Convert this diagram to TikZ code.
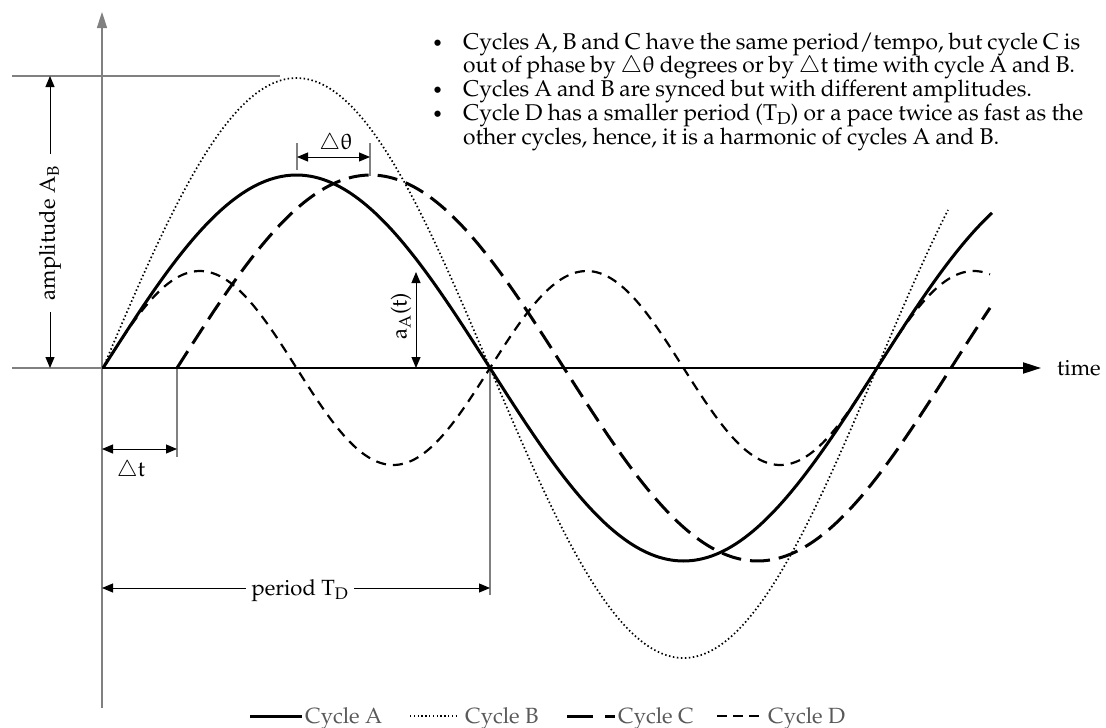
\documentclass[tikz,border=0pt]{standalone}
\usepackage[T1]{fontenc}
\usepackage{mathpazo}
\usepackage{upgreek}
\usetikzlibrary{arrows.meta}
\definecolor{axgray}{RGB}{128,128,128}
\definecolor{leggray}{RGB}{89,89,89}
\begin{document}
\begin{tikzpicture}[x=1pt,y=-1pt,
  lbl/.style={font=\fontsize{22}{22}\selectfont, inner sep=0pt},
  grayline/.style={draw=axgray, line width=1.5pt},
  tickline/.style={draw=axgray, line width=1.2pt},
  dimarrow/.style={line width=1pt, {Triangle[length=11pt,width=9pt]}-{Triangle[length=11pt,width=9pt]}},
  cycA/.style={line width=3pt},
  cycB/.style={line width=1.7pt, dash pattern=on 1.5pt off 2.5pt},
  cycC/.style={line width=3pt, dash pattern=on 20pt off 9pt},
  cycD/.style={line width=2.2pt, dash pattern=on 10pt off 7pt},
  legtext/.style={lbl, text=leggray, anchor=base west}]
\useasboundingbox (0,0) rectangle (1106,728);

% reference lines and axes
\coordinate (topL) at (12,76);
\coordinate (topR) at (280,76);
\coordinate (axL) at (12,368);
\coordinate (orig) at (102,368);
\coordinate (axEnd) at (1041,368);
\coordinate (vBot) at (102,708);
\coordinate (vTop) at (102,12);
\draw[grayline] (topL) -- (topR);
\draw[grayline] (axL) -- (orig);
\draw[grayline, -{Triangle[length=16pt,width=10pt]}] (vBot) -- (vTop);

% ticks
\coordinate (dtTickT) at (177,368);
\coordinate (dtTickB) at (177,457);
\coordinate (pTickT) at (490,368);
\coordinate (pTickB) at (490,595);
\coordinate (thT1) at (297,143);
\coordinate (thB1) at (297,170);
\coordinate (thT2) at (370,143);
\coordinate (thB2) at (370,176);
\draw[tickline] (dtTickT) -- (dtTickB);
\draw[tickline] (pTickT) -- (pTickB);
\draw[tickline] (thT1) -- (thB1);
\draw[tickline] (thT2) -- (thB2);

% time axis
\draw[line width=2pt, -{Triangle[length=18pt,width=11pt]}] (orig) -- (axEnd);
\node[lbl, anchor=base west] (time) at (1057,375) {time};

% cycles
\draw[cycB] plot[domain=103:948, samples=220, smooth] (\x, {368-290*sin((\x-103)/774*360)});
\draw[cycD] plot[domain=103:990, samples=260, smooth] (\x, {368-97*sin((\x-103)/387*360)});
\draw[cycC] plot[domain=177:990, samples=220, smooth] (\x, {368-193*sin((\x-177)/774*360)});
\draw[cycA] plot[domain=103:992, samples=220, smooth] (\x, {368-193*sin((\x-103)/774*360)});

% amplitude A_B
\coordinate (ampT) at (50,76);
\coordinate (ampB) at (50,368);
\draw[dimarrow] (ampT) -- (ampB);
\node[lbl, rotate=90, fill=white, inner xsep=12pt, inner ysep=2pt] (ampLbl) at (50,233) {amplitude A\textsubscript{B}};

% delta theta
\coordinate (thA) at (297,157);
\coordinate (thB) at (370,157);
\draw[dimarrow] (thA) -- (thB);
\node[lbl, anchor=base] (thLbl) at (336,149) {$\triangle\uptheta$};

% a_A(t)
\coordinate (aT) at (416,272);
\coordinate (aB) at (416,368);
\draw[dimarrow] (aT) -- (aB);
\node[lbl, rotate=90] (aLbl) at (401,316) {a\textsubscript{A}(t)};

% delta t
\coordinate (dtA) at (102,449);
\coordinate (dtB) at (177,449);
\draw[dimarrow] (dtA) -- (dtB);
\node[lbl] (dtLbl) at (131,471) {$\triangle$t};

% period
\coordinate (pA) at (102,588);
\coordinate (pB) at (490,588);
\draw[dimarrow] (pA) -- (pB);
\node[lbl, anchor=base, fill=white, inner xsep=6pt, inner ysep=3pt] (pLbl) at (300,595) {period T\textsubscript{D}};

% bullet text
\node[lbl, anchor=base west] (notes) at (430,49) {\parbox[t]{660pt}{\fontsize{22.8}{21.7}\selectfont\setlength{\parindent}{0pt}%
\makebox[33pt][l]{\hspace{2pt}\scalebox{0.8}{\textbullet}}\makebox[617pt][s]{Cycles A, B and C have the same period/tempo, but cycle C is}\\
\hspace*{33pt}\makebox[612pt][s]{out of phase by $\triangle\uptheta$ degrees or by $\triangle$t time with cycle A and B.}\\
\makebox[33pt][l]{\hspace{2pt}\scalebox{0.8}{\textbullet}}\makebox[569pt][s]{Cycles A and B are synced but with different amplitudes.}\\
\makebox[33pt][l]{\hspace{2pt}\scalebox{0.8}{\textbullet}}\makebox[620pt][s]{Cycle D has a smaller period (T\textsubscript{D}) or a pace twice as fast as the}\\
\hspace*{33pt}\makebox[536pt][s]{other cycles, hence, it is a harmonic of cycles A and B.}}};

% legend
\coordinate (lA1) at (250,716); \coordinate (lA2) at (302,716);
\coordinate (lB1) at (410,716); \coordinate (lB2) at (457,716);
\coordinate (lC1) at (567,716); \coordinate (lC2) at (615,716);
\coordinate (lD1) at (717,716); \coordinate (lD2) at (763,716);
\draw[line width=3pt] (lA1) -- (lA2);
\draw[line width=1.4pt, dash pattern=on 1.4pt off 2.4pt] (lB1) -- (lB2);
\draw[line width=3pt, dash pattern=on 26pt off 12pt on 10pt off 12pt] (lC1) -- (lC2);
\draw[line width=2.5pt, dash pattern=on 10pt off 6pt] (lD1) -- (lD2);
\node[legtext] (legA) at (305,723) {Cycle A};
\node[legtext] (legB) at (465,723) {Cycle B};
\node[legtext] (legC) at (618,723) {Cycle C};
\node[legtext] (legD) at (768,723) {Cycle D};
\end{tikzpicture}
\end{document}
